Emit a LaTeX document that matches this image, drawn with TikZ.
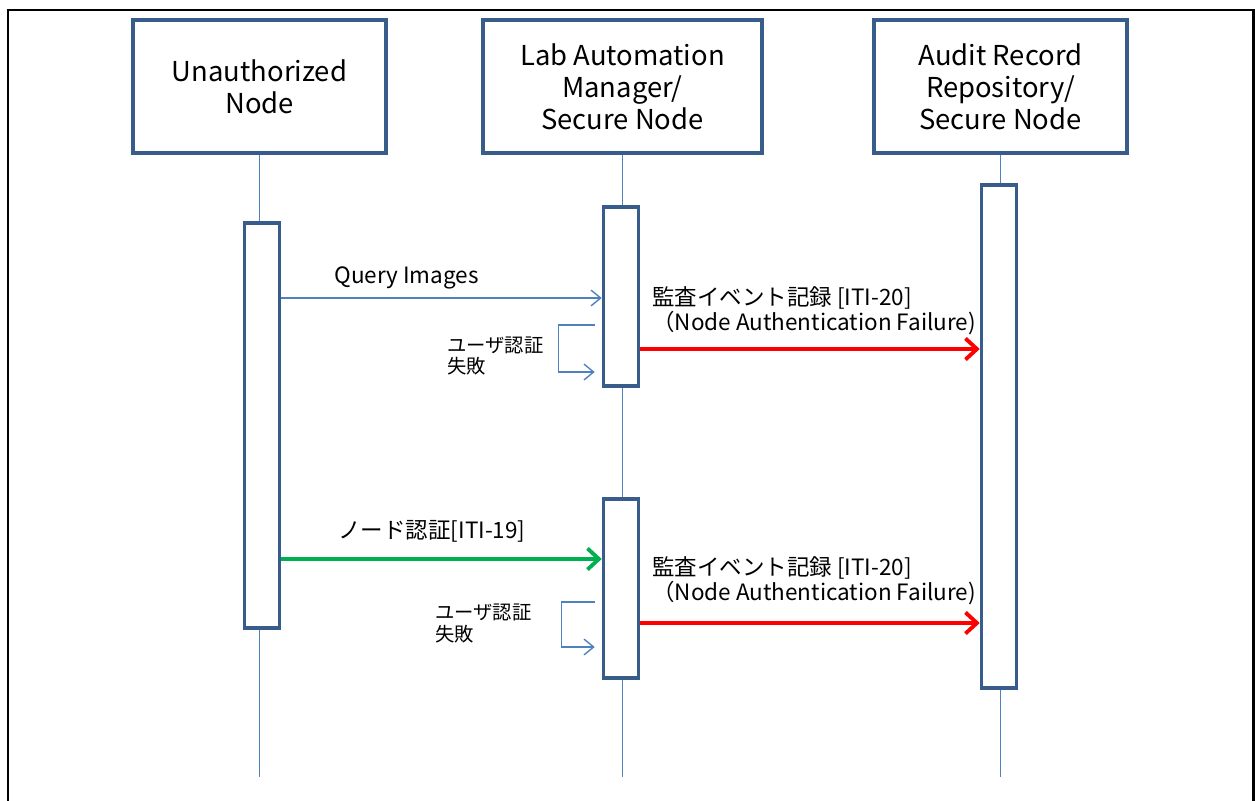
\documentclass[tikz,border=0pt]{standalone}
\usepackage{fontspec}
\setmainfont{Noto Sans CJK JP}
\usetikzlibrary{arrows.meta,positioning,calc}
\definecolor{boxblue}{HTML}{385D8A}
\definecolor{lineblue}{HTML}{4F81BD}
\definecolor{okgreen}{HTML}{00B050}

\begin{document}
\begin{tikzpicture}[x=0.02cm, y=-0.02cm,
  actor/.style={draw=boxblue, line width=2pt, fill=white, align=center, minimum width=5.06cm, minimum height=2.66cm, font=\fontsize{15.6}{18.2}\selectfont},
  bar/.style={draw=boxblue, line width=2pt, fill=white, minimum width=0.7cm},
  life/.style={draw=lineblue, line width=0.8pt},
  msg/.style={draw=lineblue, line width=0.8pt, -{Straight Barb[length=5.5pt,width=9pt]}},
  authmsg/.style={draw=okgreen, line width=2.2pt, -{Straight Barb[length=6.5pt,width=12pt]}},
  auditmsg/.style={draw=red, line width=2.2pt, -{Straight Barb[length=6.5pt,width=12pt]}},
  lbl/.style={font=\fontsize{12.8}{14.2}\selectfont, inner sep=0pt},
  selflbl/.style={font=\fontsize{11}{12.5}\selectfont, inner sep=0pt, align=left, anchor=west}
]
\useasboundingbox (0,0) rectangle (1255,801);
\draw[line width=1.7pt] (8,830) -- (8,10) -- (1253,10) -- (1253,830);

% lifeline heads
\node[actor] (unauth) at (259.5,86.5) {Unauthorized\\Node};
\node[actor, minimum width=5.58cm] (lam) at (622.5,86.5) {Lab Automation\\Manager/\\Secure Node};
\node[actor] (arr) at (1000.5,86.5) {Audit Record\\Repository/\\Secure Node};

\coordinate (lifeend) at (0,777);
\draw[life] (unauth.south) -- (unauth.south |- lifeend);
\draw[life] (lam.south) -- (lam.south |- lifeend);
\draw[life] (arr.south) -- (arr.south |- lifeend);

% activations
\node[bar, minimum height=8.1cm] (bar1) at (262,425.5) {};
\node[bar, minimum height=3.58cm] (bar2a) at (621,296.5) {};
\node[bar, minimum height=3.58cm] (bar2b) at (621,588.5) {};
\node[bar, minimum height=10.06cm] (bar3) at (999,436.5) {};

% message levels
\coordinate (m1) at (0,298);
\coordinate (m2) at (0,349);
\coordinate (m3) at (0,559);
\coordinate (m4) at (0,623);

% first attempt
\draw[msg] (bar1.east |- m1) -- (bar2a.west |- m1);
\node[lbl, anchor=west] (qlbl) at (334,278) {Query Images};
\draw[msg] ($(bar2a.west |- 0,325)+(-7,0)$) -- ++(-36,0) |- ($(bar2a.west |- 0,372)+(-7,0)$);
\node[selflbl] (fail1) at (447,356) {ユーザ認証\\失敗};
\draw[auditmsg] (bar2a.east |- m2) -- (bar3.west |- m2);
\node[lbl, anchor=west, align=left] (audit1) at (652,310.5) {監査イベント記録 [ITI-20]\\（Node Authentication Failure)};

% second attempt
\draw[authmsg] (bar1.east |- m3) -- (bar2b.west |- m3);
\node[lbl] (nlbl) at (432,531) {ノード認証[ITI-19]};
\draw[msg] ($(bar2b.west |- 0,602)+(-7,0)$) -- ++(-33,0) |- ($(bar2b.west |- 0,647)+(-7,0)$);
\node[selflbl] (fail2) at (435,623.5) {ユーザ認証\\失敗};
\draw[auditmsg] (bar2b.east |- m4) -- (bar3.west |- m4);
\node[lbl, anchor=west, align=left] (audit2) at (652,581) {監査イベント記録 [ITI-20]\\（Node Authentication Failure)};

\end{tikzpicture}
\end{document}
